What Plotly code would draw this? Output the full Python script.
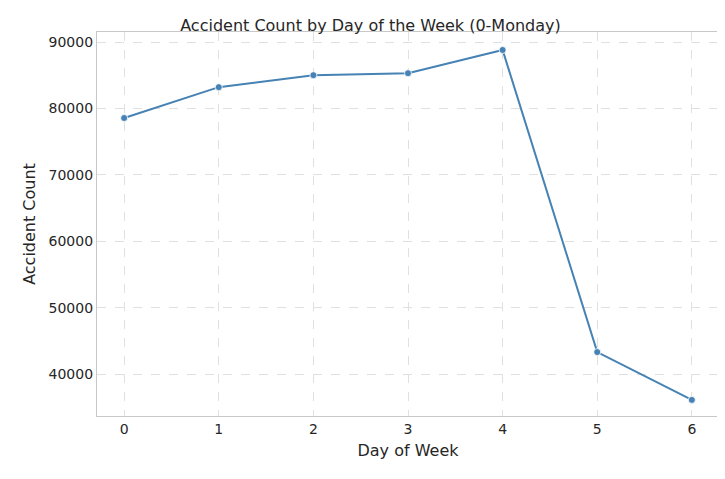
import plotly.graph_objects as go

days = [0, 1, 2, 3, 4, 5, 6]
counts = [78550, 83200, 85000, 85300, 88800, 43300, 36100]

fig = go.Figure(go.Scatter(x=days, y=counts, mode="lines+markers",
    line=dict(color="#4682b4", width=2), marker=dict(size=7, color="#4682b4", line=dict(color="white", width=0.8))))
ax = dict(showline=True, mirror=True, linecolor="#c8c8c8", linewidth=1.2,
          gridcolor="#e0e0e0", griddash="dash", gridwidth=1, zeroline=False,
          ticks="", tickfont=dict(size=14, color="#262626"))
fig.update_layout(
    width=725, height=479, plot_bgcolor="white", paper_bgcolor="white",
    font=dict(family="DejaVu Sans", color="#262626"),
    margin=dict(l=89, r=14, t=24, b=71),
    title=dict(text="Accident Count by Day of the Week (0-Monday)", x=0.5, xanchor="center", y=0.975, font=dict(size=16)),
    xaxis=dict(ax, range=[-0.287, 6.287], tickvals=days, title=dict(text="Day of Week", font=dict(size=16), standoff=8)),
    yaxis=dict(ax, range=[33675, 91506], tickvals=[40000,50000,60000,70000,80000,90000], tickformat="d",
               title=dict(text="Accident Count", font=dict(size=16), standoff=8)),
    showlegend=False)
fig.write_html("out.html")
